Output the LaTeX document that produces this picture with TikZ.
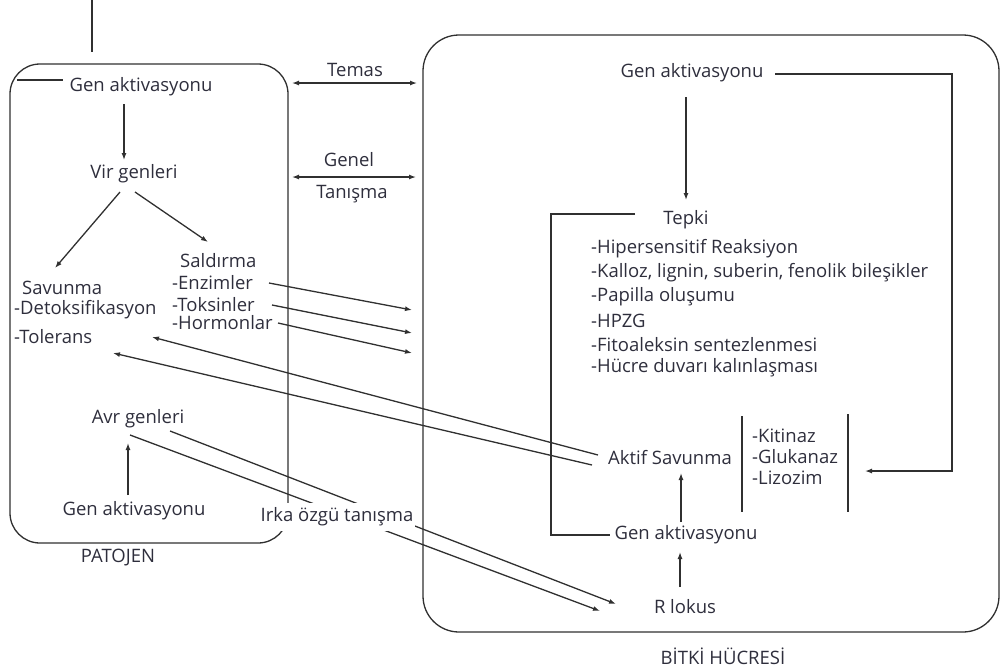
\documentclass[tikz,border=0pt]{standalone}
\usepackage{fontspec}
\setmainfont{Open Sans}
\usetikzlibrary{arrows.meta}
\definecolor{ink}{HTML}{303030}
\definecolor{txt}{HTML}{2E2E3C}
\tikzset{
  lbl/.style={font=\fontsize{18.5}{21}\selectfont, text=txt, inner sep=1pt},
  lnk/.style={draw=ink, line width=1.3pt},
  arr/.style={lnk, -{Latex[length=7pt,width=5pt]}},
  darr/.style={lnk, {Latex[length=7pt,width=5pt]}-{Latex[length=7pt,width=5pt]}},
}
\begin{document}
\begin{tikzpicture}[x=1pt,y=-1pt]
\useasboundingbox (0,0) rectangle (1002,670);
% boxes
\draw[lnk, rounded corners=30pt] (10,64) rectangle (288,543);
\draw[lnk, rounded corners=36pt] (423,35) rectangle (999,632);
% pathogen texts
\node[lbl] (pga) at (141,87) {Gen aktivasyonu};
\node[lbl] (vir) at (134,174) {Vir genleri};
\node[lbl, anchor=west] (sav) at (21,288) {Savunma};
\node[lbl, anchor=west] (detok) at (13,310) {-Detoksifikasyon};
\node[lbl, anchor=west] (tol) at (13,337) {-Tolerans};
\node[lbl, anchor=west] (sald) at (179,261) {Saldırma};
\node[lbl, anchor=west] (enz) at (171,283) {-Enzimler};
\node[lbl, anchor=west] (toks) at (171,305) {-Toksinler};
\node[lbl, anchor=west] (horm) at (171,323) {-Hormonlar};
\node[lbl] (avr) at (138,419) {Avr genleri};
\node[lbl] (pgb) at (134,511) {Gen aktivasyonu};
\node[lbl] (patojen) at (118,558) {PATOJEN};
\node[lbl] (temas) at (355,70) {Temas};
\node[lbl] (genel) at (349,160) {Genel};
\node[lbl] (tanis) at (352,194) {Tanışma};
% plant texts
\node[lbl] (bga) at (692,73) {Gen aktivasyonu};
\node[lbl] (tepki) at (686,220) {Tepki};
\node[lbl, anchor=west] (t1) at (590,249) {-Hipersensitif Reaksiyon};
\node[lbl, anchor=west] (t2) at (590,273) {-Kalloz, lignin, suberin, fenolik bileşikler};
\node[lbl, anchor=west] (t3) at (590,297) {-Papilla oluşumu};
\node[lbl, anchor=west] (t4) at (590,321) {-HPZG};
\node[lbl, anchor=west] (t5) at (590,345) {-Fitoaleksin sentezlenmesi};
\node[lbl, anchor=west] (t6) at (590,368) {-Hücre duvarı kalınlaşması};
\node[lbl] (aktif) at (670,458) {Aktif Savunma};
\node[lbl, anchor=west] (kit) at (751,436) {-Kitinaz};
\node[lbl, anchor=west] (glu) at (751,457) {-Glukanaz};
\node[lbl, anchor=west] (liz) at (751,478) {-Lizozim};
\node[lbl] (bgb) at (686,535) {Gen aktivasyonu};
\node[lbl] (rlok) at (685,607) {R lokus};
\node[lbl] (bitki) at (723,656) {BİTKİ HÜCRESİ};
% coordinates
\coordinate (topA) at (92,0);
\coordinate (topB) at (92,52);
\coordinate (hA) at (17,80);
\coordinate (hB) at (63,80);
\coordinate (vs) at (55,268);
\coordinate (vd) at (208,242);
\coordinate (e1) at (412,310);
\coordinate (e2) at (412,333);
\coordinate (e3) at (412,353);
\coordinate (tolA) at (152,337);
\coordinate (tolB) at (113,353);
\coordinate (r1) at (600,611);
\coordinate (r2) at (616,604);
\coordinate (corner1) at (952,74);
\coordinate (corner2) at (952,471);
\coordinate (lyt) at (865,471);
\coordinate (bk1) at (551,214);
\coordinate (bk2) at (551,535);
\draw[lnk] (topA) -- (topB);
\draw[lnk] (hA) -- (hB);
% pathogen arrows
\draw[arr] (124,104) -- (124,160);
\draw[arr] (120,192) -- (vs);
\draw[arr] (135,192) -- (vd);
\draw[arr] (269,283) -- (e1);
\draw[arr] (272,305) -- (e2);
\draw[arr] (278,323) -- (e3);
\draw[arr] (598,455) -- (tolA);
\draw[arr] (592,465) -- (tolB);
\draw[arr] (128,495) -- (128,443);
\draw[arr] (130,435) -- (r1);
\draw[arr] (170,431) -- (r2);
\draw[darr] (292,83) -- (417,83);
\draw[darr] (292,177) -- (416,177);
% plant
\draw[arr] (686,97) -- (686,200);
\draw[arr] (775,74) -- (corner1) -- (corner2) -- (lyt);
\draw[lnk] (635,214) -- (bk1) -- (bk2) -- (610,535);
\draw[lnk] (742,416) -- (742,512);
\draw[lnk] (848,414) -- (848,512);
\draw[arr] (681,522) -- (681,473);
\draw[arr] (680,587) -- (680,552);
% over lines
\node[lbl, fill=white, inner xsep=2pt, inner ysep=5pt] (irka) at (337,517) {Irka özgü tanışma};
\end{tikzpicture}
\end{document}
